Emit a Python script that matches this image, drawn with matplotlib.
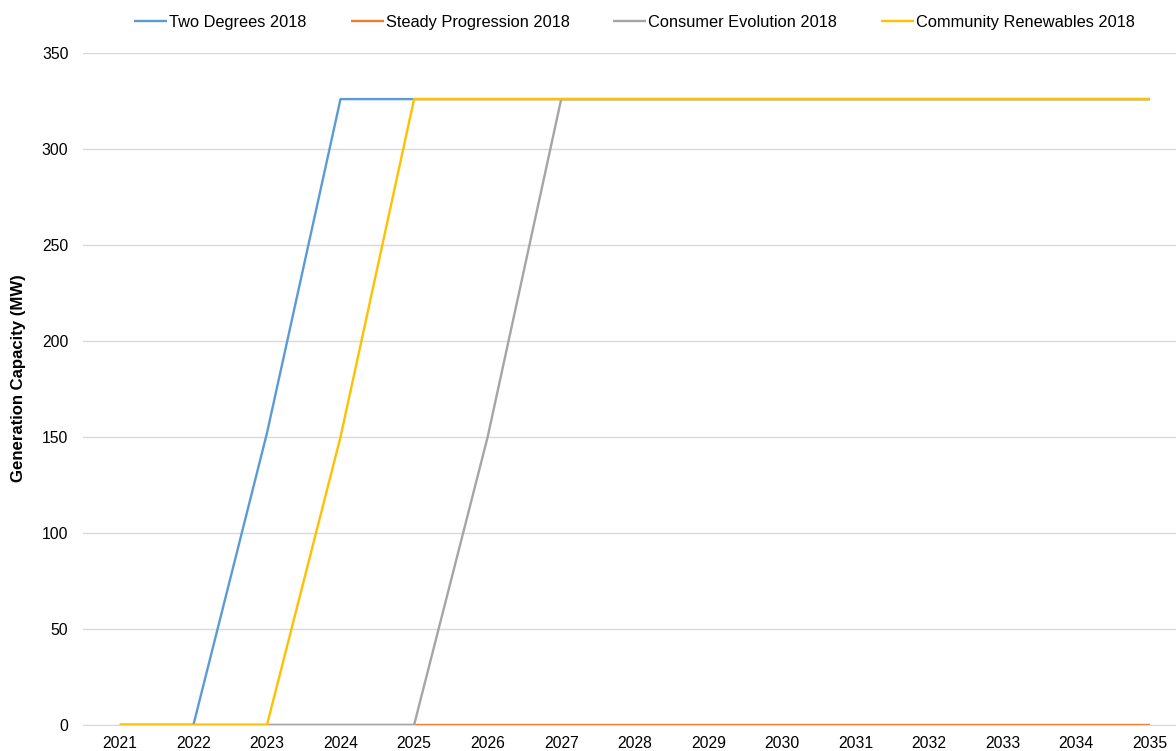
import matplotlib
matplotlib.use("Agg")
import matplotlib.pyplot as plt

plt.rcParams['font.family'] = ['Liberation Sans', 'DejaVu Sans']

years = list(range(2021, 2036))
two_degrees = [0, 0, 152, 326, 326, 326, 326, 326, 326, 326, 326, 326, 326, 326, 326]
steady_progression = [0] * 15
consumer_evolution = [0, 0, 0, 0, 0, 150, 326, 326, 326, 326, 326, 326, 326, 326, 326]
community_renewables = [0, 0, 0, 150, 326, 326, 326, 326, 326, 326, 326, 326, 326, 326, 326]

series = [
    ("Two Degrees 2018", two_degrees, "#5B9BD5"),
    ("Steady Progression 2018", steady_progression, "#ED7D31"),
    ("Consumer Evolution 2018", consumer_evolution, "#A5A5A5"),
    ("Community Renewables 2018", community_renewables, "#FFC000"),
]
# left edge of each legend entry, as figure fraction
legend_x = [0.1139, 0.2985, 0.5213, 0.7491]

fig = plt.figure(figsize=(11.76, 7.51), dpi=100)
ax = fig.add_axes([0.0706, 0.0346, 0.9294, 0.8948])

lines = []
for name, vals, col in series:
    ln, = ax.plot(years, vals, color=col, lw=1.7, label=name, solid_capstyle='butt')
    lines.append(ln)

ax.set_xlim(2020.5, 2035.357)
ax.set_ylim(0, 350)
ax.set_yticks(range(0, 351, 50))
ax.set_xticks(years)
ax.grid(axis='y', color='#D9D9D9', lw=1)
ax.set_axisbelow(True)
for s in ['top', 'right', 'left']:
    ax.spines[s].set_visible(False)
ax.spines['bottom'].set_color('#D9D9D9')
ax.tick_params(axis='both', length=0, labelsize=11.3, colors='#000000')
ax.tick_params(axis='y', pad=10.5)
ax.tick_params(axis='x', pad=8)

fig.text(0.0157, 0.4967, "Generation Capacity (MW)", rotation=90, fontsize=12.1,
         fontweight='bold', ha='center', va='center')

# separate legend entries, placed like the original
for ln, lx in zip(lines, legend_x):
    fig.legend([ln], [ln.get_label()], loc='center left', bbox_to_anchor=(lx, 0.9707),
               frameon=False, fontsize=11.8, handlelength=2.0, handletextpad=0.15,
               borderaxespad=0, borderpad=0)

fig.savefig("out.png", dpi=100)
